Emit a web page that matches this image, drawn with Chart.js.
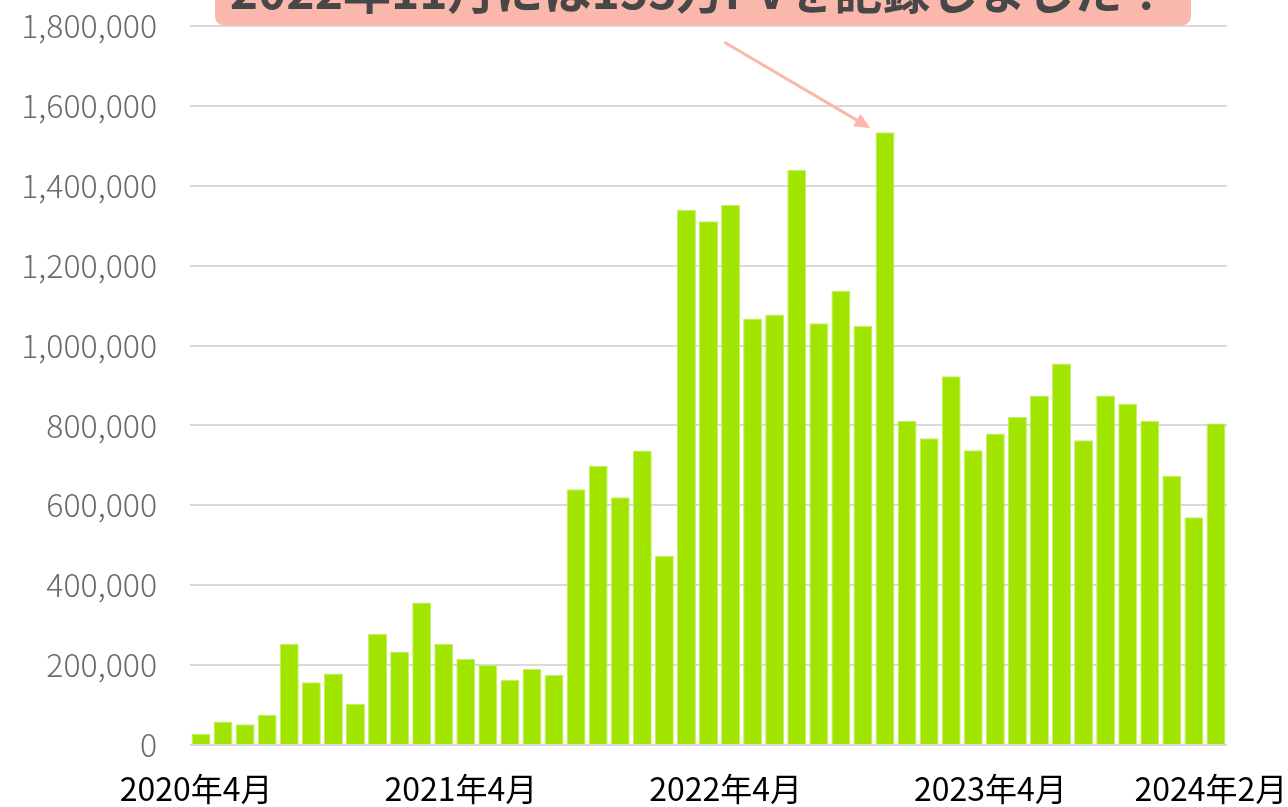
<!DOCTYPE html>
<html lang="ja">
<head>
<meta charset="utf-8">
<title>月間PV推移</title>
<script src="https://cdn.jsdelivr.net/npm/chart.js@4.4.1/dist/chart.umd.min.js"></script>
<style>
  html, body { margin: 0; padding: 0; background: #ffffff; }
  #chartWrap { width: 1288px; height: 807px; }
</style>
</head>
<body>
<div id="chartWrap"><canvas id="pvChart" width="1288" height="807"></canvas></div>
<script>
// Monthly page views, 2020年4月 - 2024年2月
const months = [
  '2020年4月', '2020年5月', '2020年6月', '2020年7月', '2020年8月', '2020年9月',
  '2020年10月', '2020年11月', '2020年12月',
  '2021年1月', '2021年2月', '2021年3月', '2021年4月', '2021年5月', '2021年6月',
  '2021年7月', '2021年8月', '2021年9月', '2021年10月', '2021年11月', '2021年12月',
  '2022年1月', '2022年2月', '2022年3月', '2022年4月', '2022年5月', '2022年6月',
  '2022年7月', '2022年8月', '2022年9月', '2022年10月', '2022年11月', '2022年12月',
  '2023年1月', '2023年2月', '2023年3月', '2023年4月', '2023年5月', '2023年6月',
  '2023年7月', '2023年8月', '2023年9月', '2023年10月', '2023年11月', '2023年12月',
  '2024年1月', '2024年2月'
];

const pageViews = [
  28000, 59000, 52000, 75000, 253000, 157000, 179000, 103000, 278000,
  234000, 357000, 253000, 215000, 200000, 163000, 191000, 175000, 640000,
  699000, 620000, 737000, 473000, 1340000, 1311000, 1352000, 1068000, 1078000,
  1440000, 1056000, 1137000, 1049000, 1534000, 811000, 768000, 923000, 738000,
  780000, 821000, 875000, 955000, 763000, 875000, 854000, 811000, 674000,
  570000, 805000
];

// only these months get a label under the axis
const shownTicks = ['2020年4月', '2021年4月', '2022年4月', '2023年4月', '2024年2月'];

const yMax = 1800000;
const yStep = 200000;

const peakMonth = '2022年11月';
const calloutText = '2022年11月には153万PVを記録しました！';

const calloutPlugin = {
  id: 'callout',
  afterDraw(chart) {
    const ctx = chart.ctx;
    const meta = chart.getDatasetMeta(0);
    const bar = meta.data[months.indexOf(peakMonth)];

    ctx.save();
    // pink box (cut off at the top edge)
    ctx.fillStyle = '#f9b8ab';
    ctx.beginPath();
    ctx.roundRect(215, -50, 976, 75.5, 9);
    ctx.fill();

    ctx.fillStyle = '#474747';
    ctx.font = 'bold 48px "Noto Sans CJK JP", sans-serif';
    ctx.textAlign = 'center';
    ctx.textBaseline = 'alphabetic';
    ctx.fillText(calloutText, 700, 9);

    // arrow pointing at the peak bar
    const tipX = bar.x - bar.width / 2 - 5;
    const tipY = bar.y - 4;
    const startX = tipX - 146;
    const startY = tipY - 86;
    const ang = Math.atan2(tipY - startY, tipX - startX);
    const headLen = 16;
    const headW = 7;
    const baseX = tipX - headLen * Math.cos(ang);
    const baseY = tipY - headLen * Math.sin(ang);

    ctx.strokeStyle = '#f9b8ab';
    ctx.lineWidth = 3;
    ctx.beginPath();
    ctx.moveTo(startX, startY);
    ctx.lineTo(baseX, baseY);
    ctx.stroke();

    ctx.beginPath();
    ctx.moveTo(tipX, tipY);
    ctx.lineTo(baseX + headW * Math.sin(ang), baseY - headW * Math.cos(ang));
    ctx.lineTo(baseX - headW * Math.sin(ang), baseY + headW * Math.cos(ang));
    ctx.closePath();
    ctx.fillStyle = '#f9b8ab';
    ctx.fill();
    ctx.restore();
  }
};

const ctx = document.getElementById('pvChart').getContext('2d');
new Chart(ctx, {
  type: 'bar',
  data: {
    labels: months,
    datasets: [{
      data: pageViews,
      backgroundColor: '#a0e400',
      borderColor: '#c3ee6a',
      borderWidth: 1,
      barPercentage: 0.86,
      categoryPercentage: 1.0
    }]
  },
  options: {
    responsive: false,
    animation: false,
    devicePixelRatio: 1,
    layout: { padding: { top: 26, right: 61, bottom: 0, left: 0 } },
    plugins: {
      legend: { display: false },
      tooltip: { enabled: false }
    },
    scales: {
      x: {
        grid: { display: false },
        border: { display: false },
        ticks: {
          autoSkip: false,
          maxRotation: 0,
          minRotation: 0,
          padding: 17,
          labelOffset: -5,
          color: '#000000',
          font: { family: '"Noto Sans CJK JP", sans-serif', size: 32 },
          callback: (value, index) => shownTicks.includes(months[index]) ? months[index] : ''
        },
        afterFit: (scale) => {
          scale.height = 62;
          scale.paddingLeft = 0;
          scale.paddingRight = 0;
        }
      },
      y: {
        min: 0,
        max: yMax,
        border: { display: false },
        grid: { color: '#d9d9d9', lineWidth: 2, drawTicks: false },
        ticks: {
          stepSize: yStep,
          padding: 33,
          color: '#6b6b6b',
          font: { family: '"Noto Sans CJK JP", sans-serif', size: 32, weight: '300' },
          callback: (value) => value.toLocaleString('en-US')
        },
        afterFit: (scale) => {
          scale.width = 190;
          scale.paddingTop = 0;
          scale.paddingBottom = 0;
        }
      }
    }
  },
  plugins: [calloutPlugin]
});
</script>
</body>
</html>
